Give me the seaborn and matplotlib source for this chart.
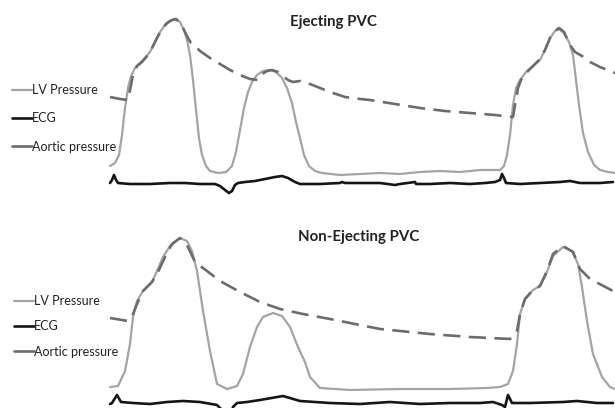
import numpy as np
import pandas as pd
import matplotlib
matplotlib.use("Agg")
import matplotlib.pyplot as plt
from matplotlib.lines import Line2D
import seaborn as sns

# ---------------- data (time in ms-like units, readings in panel units, 0 = top) ----
titles = ["Ejecting PVC", "Non-Ejecting PVC"]
series_names = ["LV Pressure", "ECG", "Aortic pressure"]

# Panel 1: Ejecting PVC
lv1_t = [110, 115, 119, 122, 125, 128, 131, 135, 140, 145, 150, 155, 160, 165, 170, 176,
         180, 184, 187, 190, 193, 196, 199, 202, 206, 210, 218, 226, 232, 236, 240, 244,
         248, 252, 257, 263, 270, 276, 282, 287, 292, 296, 300, 304, 309, 315, 322, 340,
         360, 380, 400, 420, 440, 460, 480, 500, 504, 507, 510, 513, 516, 520, 526, 533,
         540, 545, 550, 555, 559, 564, 569, 573, 576, 579, 583, 588, 594, 600, 608, 615]
lv1_v = [166, 163, 155, 135, 108, 88, 76, 68, 63, 58, 52, 42, 32, 25, 21, 19,
         22, 30, 40, 55, 80, 110, 138, 155, 166, 171, 173, 172, 166, 152, 130, 108,
         92, 82, 75, 71, 70, 72, 78, 88, 103, 122, 138, 155, 166, 171, 173, 175,
         174, 173, 174, 172, 171, 172, 170, 170, 166, 155, 135, 105, 88, 80, 72, 66,
         60, 50, 38, 31, 29, 33, 42, 55, 80, 105, 133, 152, 165, 170, 172, 173]

ao1_t = [110, 120, 128, 130, 133, 137, 142, 147, 152, 157, 162, 167, 172, 176, 181, 185,
         188, 191, 196, 200, 210, 220, 230, 240, 250, 258, 262, 267, 272, 278, 284, 288,
         293, 300, 310, 320, 333, 345, 360, 370, 395, 420, 445, 470, 495, 513, 515, 518,
         521, 526, 533, 540, 545, 550, 555, 559, 564, 570, 575, 582, 590, 600, 615]
ao1_v = [97, 99, 100, 90, 75, 66, 62, 56, 48, 38, 29, 23, 20, 19, 24, 32,
         38, 43, 47, 51, 58, 64, 70, 75, 79, 80, 74, 71, 70, 72, 77, 80,
         82, 81, 84, 88, 93, 97, 99, 100, 104, 108, 111, 113, 115, 117, 105, 88,
         80, 73, 66, 59, 50, 38, 31, 28, 32, 45, 52, 56, 62, 67, 73]

ecg1_t = [110, 112, 114, 116, 118, 130, 150, 170, 185, 200, 215, 220, 225, 229, 232, 235,
          238, 245, 255, 265, 275, 282, 288, 295, 300, 320, 340, 342, 345, 365, 380, 395,
          400, 415, 416, 430, 450, 470, 485, 495, 500, 502, 504, 506, 520, 540, 560, 570,
          580, 600, 613]
ecg1_v = [183, 180, 175, 180, 183, 184, 184, 183, 183, 184, 184, 186, 190, 193, 191, 185,
          183, 182, 181, 179, 177, 176, 178, 182, 184, 184, 183, 182, 183, 183, 183, 185,
          184, 182, 184, 184, 183, 184, 183, 182, 180, 174, 178, 183, 184, 183, 182, 181,
          183, 183, 182]

# Panel 2: Non-Ejecting PVC
lv2_t = [110, 118, 125, 130, 133, 137, 143, 152, 157, 163, 170, 180, 187, 192, 197, 203,
         210, 217, 227, 237, 243, 250, 257, 263, 273, 282, 290, 298, 305, 310, 320, 350,
         400, 450, 487, 500, 508, 513, 517, 520, 525, 533, 540, 547, 553, 563, 572, 578,
         582, 587, 593, 602, 610, 615]
lv2_v = [183, 182, 167, 140, 113, 97, 87, 78, 67, 53, 42, 34, 37, 47, 67, 107,
         147, 180, 185, 182, 170, 143, 123, 113, 109, 112, 123, 143, 158, 173, 184, 186,
         185, 185, 184, 183, 180, 167, 140, 110, 95, 86, 82, 68, 52, 43, 47, 60,
         83, 117, 150, 173, 183, 185]

ao2_t = [110, 128, 133, 137, 143, 152, 158, 165, 172, 180, 188, 195, 207, 220, 240, 260,
         280, 303, 330, 380, 430, 470, 510, 517, 520, 525, 533, 540, 547, 553, 563, 573,
         580, 590, 615]
ao2_v = [114, 117, 110, 100, 87, 78, 68, 53, 40, 34, 43, 58, 67, 77, 88, 98,
         105, 110, 115, 125, 130, 133, 135, 127, 110, 95, 86, 82, 67, 50, 42, 48,
         65, 75, 88]

ecg2_t = [110, 112, 117, 121, 133, 150, 167, 183, 200, 217, 222, 225, 229, 233, 237, 247,
          260, 283, 300, 330, 360, 390, 420, 450, 480, 493, 502, 505, 508, 512, 530, 563,
          577, 597, 613]
ecg2_v = [200, 199, 191, 198, 199, 200, 198, 197, 198, 201, 206, 216, 216, 203, 199, 198,
          196, 192, 197, 199, 200, 198, 200, 199, 199, 198, 201, 203, 191, 199, 199, 198,
          197, 199, 199]

panels = [
    dict(title=titles[0], lv=(lv1_t, lv1_v), ao=(ao1_t, ao1_v), ecg=(ecg1_t, ecg1_v)),
    dict(title=titles[1], lv=(lv2_t, lv2_v), ao=(ao2_t, ao2_v), ecg=(ecg2_t, ecg2_v)),
]

# ---------------- style ----------------
sns.set_theme(style="white")
plt.rcParams["font.family"] = ["Lato", "DejaVu Sans"]

C_LV = "#a4a4a4"
C_AO = "#6c6c6c"
C_ECG = "#151515"

fig = plt.figure(figsize=(6.15, 4.08), dpi=100)
axes = [fig.add_axes([0, 0.5, 1, 0.5]), fig.add_axes([0, 0.0, 1, 0.5])]

title_pos = [(333, 22), (359, 33)]
legend_pos = [(0.019, 0.42), (0.022, 0.40)]
legend_spacing = [1.3, 1.06]

for ax, p, tp, lp, ls in zip(axes, panels, title_pos, legend_pos, legend_spacing):
    df_lv = pd.DataFrame({"t": p["lv"][0], "v": p["lv"][1]})
    df_ao = pd.DataFrame({"t": p["ao"][0], "v": p["ao"][1]})
    df_ecg = pd.DataFrame({"t": p["ecg"][0], "v": p["ecg"][1]})

    sns.lineplot(data=df_lv, x="t", y="v", ax=ax, color=C_LV, linewidth=1.6,
                 sort=False, estimator=None)
    sns.lineplot(data=df_ao, x="t", y="v", ax=ax, color=C_AO, linewidth=1.9,
                 sort=False, estimator=None)
    ax.lines[-1].set_dashes([6.5, 3.2])
    ax.lines[-1].set_solid_capstyle("butt")
    sns.lineplot(data=df_ecg, x="t", y="v", ax=ax, color=C_ECG, linewidth=1.9,
                 sort=False, estimator=None)

    ax.set_xlim(0, 615)
    ax.set_ylim(204, 0)
    ax.axis("off")
    ax.text(tp[0], tp[1], p["title"], ha="center", va="center",
            fontsize=10.8, fontweight="bold", color="#222222")

    handles = [Line2D([], [], color=C_LV, lw=1.6),
               Line2D([], [], color=C_ECG, lw=1.9),
               Line2D([], [], color=C_AO, lw=1.9)]
    ax.legend(handles, series_names, loc="center left", bbox_to_anchor=lp,
              frameon=False, fontsize=9, handlelength=1.6, handletextpad=0.0,
              labelspacing=ls, borderaxespad=0, borderpad=0,
              labelcolor="#222222")

fig.savefig("out.png", dpi=100)
